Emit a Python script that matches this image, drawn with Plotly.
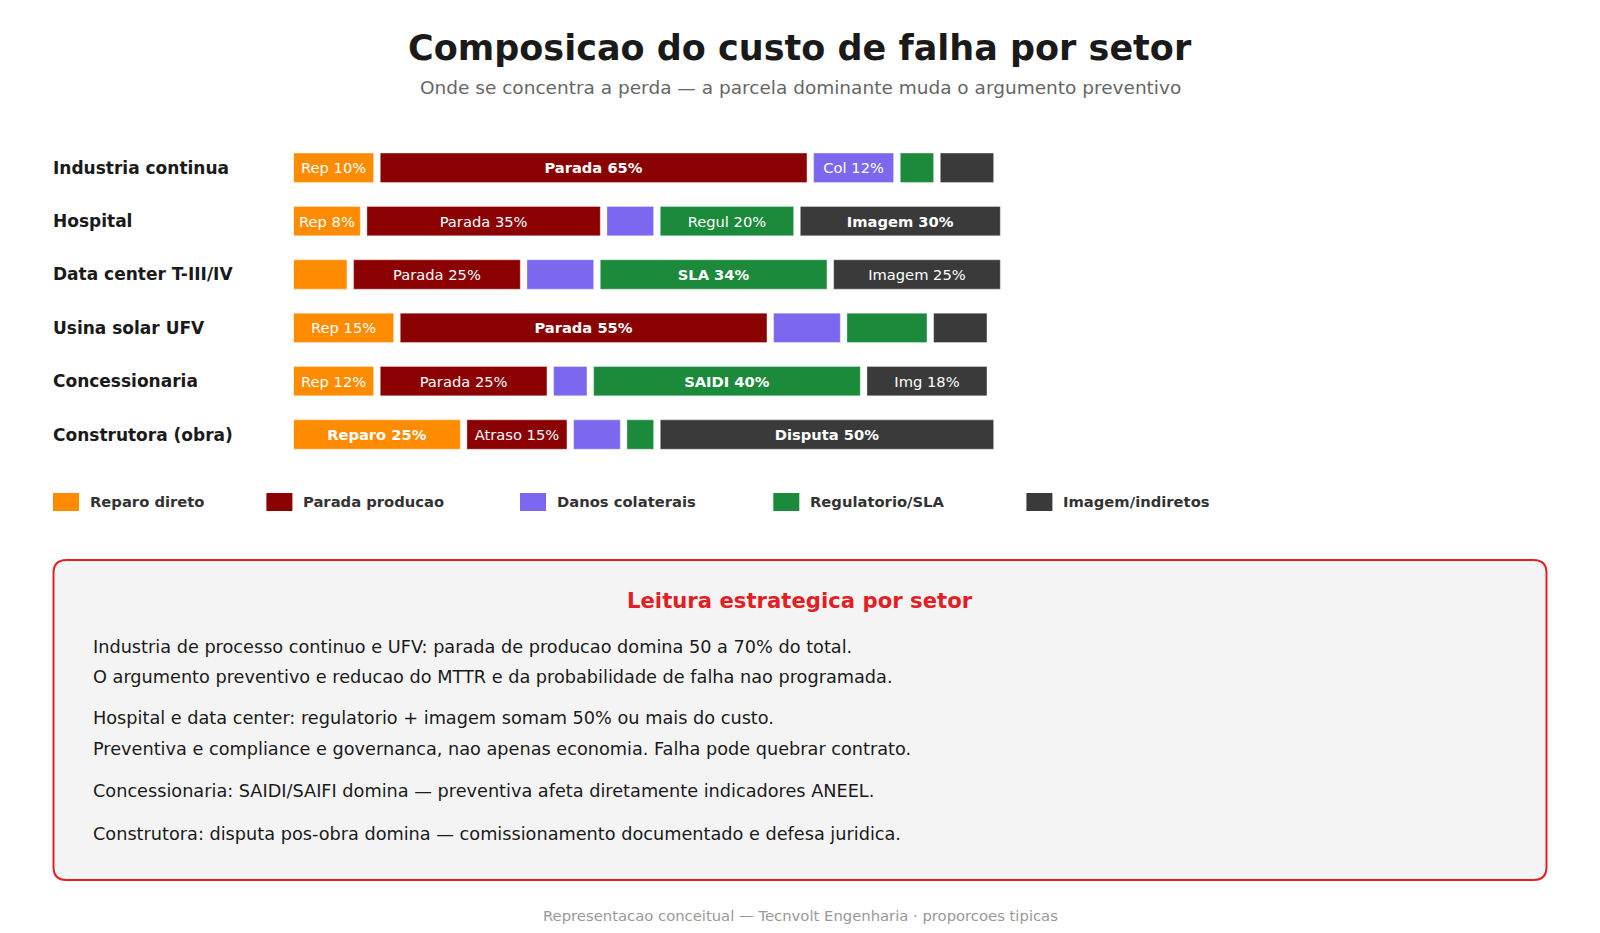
import plotly.graph_objects as go

setores = ["Industria continua", "Hospital", "Data center T-III/IV",
           "Usina solar UFV", "Concessionaria", "Construtora (obra)"]
categorias = ["Reparo direto", "Parada producao", "Danos colaterais",
              "Regulatorio/SLA", "Imagem/indiretos"]
cores = ["#ff8c00", "#8b0000", "#7b68ee", "#1b8a3a", "#3a3a3a"]

reparo = [12, 10, 8, 15, 12, 25]
parada = [64, 35, 25, 55, 25, 15]
danos = [12, 7, 10, 10, 5, 7]
regul = [5, 20, 34, 12, 40, 4]
imagem = [8, 30, 25, 8, 18, 50]

rot_reparo = ["Rep 10%", "Rep 8%", "", "Rep 15%", "Rep 12%", "Reparo 25%"]
rot_parada = ["Parada 65%", "Parada 35%", "Parada 25%", "Parada 55%", "Parada 25%", "Atraso 15%"]
rot_danos = ["Col 12%", "", "", "", "", ""]
rot_regul = ["", "Regul 20%", "SLA 34%", "", "SAIDI 40%", ""]
rot_imagem = ["", "Imagem 30%", "Imagem 25%", "", "Img 18%", "Disputa 50%"]

# parcela que domina cada setor -> rotulo em negrito
negrito = [
    [0, 1, 0, 0, 0],
    [0, 0, 0, 0, 1],
    [0, 0, 0, 1, 0],
    [0, 1, 0, 0, 0],
    [0, 0, 0, 1, 0],
    [1, 0, 0, 0, 1],
]

leitura_titulo = "Leitura estrategica por setor"
leitura = [
    ["Industria de processo continuo e UFV: parada de producao domina 50 a 70% do total.",
     "O argumento preventivo e reducao do MTTR e da probabilidade de falha nao programada."],
    ["Hospital e data center: regulatorio + imagem somam 50% ou mais do custo.",
     "Preventiva e compliance e governanca, nao apenas economia. Falha pode quebrar contrato."],
    ["Concessionaria: SAIDI/SAIFI domina \u2014 preventiva afeta diretamente indicadores ANEEL."],
    ["Construtora: disputa pos-obra domina \u2014 comissionamento documentado e defesa juridica."],
]

FONT = "DejaVu Sans"
OFF = 8                      # margem padrao do <body> na pagina
FW, FH = 1600 - 2 * OFF, 933 - 2 * OFF
UNIT = 6.667                 # px por unidade no eixo x
X0 = 293.6                   # px (na tela) onde comeca a barra
GAP = 1                      # espaco entre parcelas (unidades)
PAD = 2                      # borderpad + borda das anotacoes


def px(x):
    return (x - OFF) / FW


def py(y):
    return 1 - (y - OFF) / FH


series = [reparo, parada, danos, regul, imagem]
rotulos = [rot_reparo, rot_parada, rot_danos, rot_regul, rot_imagem]

fig = go.Figure()

acum = [0] * len(setores)
for k, (nome, cor, vals, rots) in enumerate(zip(categorias, cores, series, rotulos)):
    base = [acum[i] + k * GAP for i in range(len(setores))]
    textos = []
    for i, t in enumerate(rots):
        textos.append(f"<b>{t}</b>" if t and negrito[i][k] else t)
    fig.add_trace(go.Bar(
        y=setores, x=vals, base=base, orientation="h", name=nome,
        marker=dict(color=cor, line=dict(color="rgba(255,255,255,0.35)", width=1)),
        width=0.55,
        text=textos, textposition="inside", insidetextanchor="middle",
        textfont=dict(family=FONT, size=14.7, color="white"),
        constraintext="none", hoverinfo="skip", showlegend=False,
    ))
    acum = [acum[i] + vals[i] for i in range(len(setores))]

# nomes dos setores alinhados a esquerda
for s in setores:
    fig.add_annotation(x=px(53 - PAD), xref="paper", y=s, yref="y", text=f"<b>{s}</b>",
                       xanchor="left", showarrow=False,
                       font=dict(family=FONT, size=17, color="#1a1a1a"))

# legenda
leg_x = [53, 266.4, 520, 773.3, 1026.4]
leg_y = 502
shapes = []
for xl, nome, cor in zip(leg_x, categorias, cores):
    shapes.append(dict(type="rect", xref="paper", yref="paper",
                       x0=px(xl), x1=px(xl + 26), y0=py(leg_y - 9), y1=py(leg_y + 9),
                       fillcolor=cor, line=dict(width=0)))
    fig.add_annotation(x=px(xl + 37 - PAD), xref="paper", y=py(leg_y), yref="paper",
                       text=f"<b>{nome}</b>", xanchor="left", yanchor="middle", showarrow=False,
                       font=dict(family=FONT, size=14.75, color="#333333"))

# caixa de leitura com cantos arredondados
bx0, bx1, by0, by1, r = 53.5, 1546.5, 560, 880, 13
rx, ry = r / FW, r / FH
X0p, X1p, Y0p, Y1p = px(bx0), px(bx1), py(by0), py(by1)
caminho = (f"M{X0p + rx},{Y0p} L{X1p - rx},{Y0p} Q{X1p},{Y0p} {X1p},{Y0p - ry} "
           f"L{X1p},{Y1p + ry} Q{X1p},{Y1p} {X1p - rx},{Y1p} "
           f"L{X0p + rx},{Y1p} Q{X0p},{Y1p} {X0p},{Y1p + ry} "
           f"L{X0p},{Y0p - ry} Q{X0p},{Y0p} {X0p + rx},{Y0p} Z")
shapes.append(dict(type="path", xref="paper", yref="paper", path=caminho,
                   fillcolor="#f4f4f4", line=dict(color="#e31e24", width=2), layer="below"))

fig.add_annotation(x=px(800), xref="paper", y=py(600), yref="paper",
                   text=f"<b>{leitura_titulo}</b>", showarrow=False, yanchor="middle",
                   font=dict(family=FONT, size=21.2, color="#e31e24"))

linhas_y = [[647, 676.5], [718.4, 749], [790.8], [833.7]]
for bloco, ys in zip(leitura, linhas_y):
    for txt, yy in zip(bloco, ys):
        fig.add_annotation(x=px(93 - PAD), xref="paper", y=py(yy), yref="paper", text=txt,
                           xanchor="left", yanchor="middle", showarrow=False,
                           font=dict(family=FONT, size=17.7, color="#1a1a1a"))

# titulo, subtitulo e rodape
fig.add_annotation(x=px(800), xref="paper", y=py(48), yref="paper",
                   text="<b>Composicao do custo de falha por setor</b>", showarrow=False,
                   yanchor="middle", font=dict(family=FONT, size=35, color="#1a1a1a"))
fig.add_annotation(x=px(800), xref="paper", y=py(87), yref="paper",
                   text="Onde se concentra a perda \u2014 a parcela dominante muda o argumento preventivo",
                   showarrow=False, yanchor="middle", font=dict(family=FONT, size=18.5, color="#666666"))
fig.add_annotation(x=px(800), xref="paper", y=py(915), yref="paper",
                   text="Representacao conceitual \u2014 Tecnvolt Engenharia \u00b7 proporcoes tipicas",
                   showarrow=False, yanchor="middle", font=dict(family=FONT, size=14.8, color="#999999"))

fig.update_layout(
    width=FW, height=FH,
    margin=dict(l=0, r=0, t=0, b=0),
    paper_bgcolor="white", plot_bgcolor="white",
    barmode="overlay",
    shapes=shapes,
    xaxis=dict(domain=[px(X0), 1], range=[0, (OFF + FW - X0) / UNIT], visible=False, fixedrange=True),
    yaxis=dict(domain=[py(461.2), py(141.1)], range=[5.5, -0.5], showticklabels=False,
               showgrid=False, zeroline=False, fixedrange=True),
    font=dict(family=FONT),
)

fig.write_html("out.html")
